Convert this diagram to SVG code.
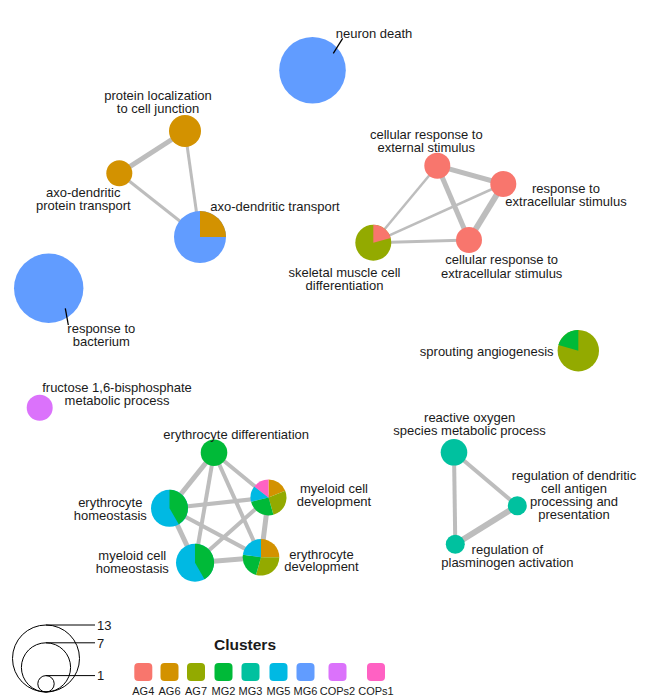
<svg xmlns="http://www.w3.org/2000/svg" width="651" height="696" viewBox="0 0 651 696">
<style>
text{font-family:"Liberation Sans",Arial,sans-serif;font-size:13px;fill:#1a1a1a;text-anchor:middle}
.e{stroke:#bdbdbd;fill:none;stroke-linecap:butt}
.lg{fill:none;stroke:#000;stroke-width:1}
.ld{stroke:#000;stroke-width:1.3}
.cl{font-size:11px}
.ttl{font-size:15.5px;font-weight:bold}
.AG4{fill:#F8766D}.AG6{fill:#D39200}.AG7{fill:#93AA00}.MG2{fill:#00BA38}.MG3{fill:#00C19F}.MG5{fill:#00B9E3}.MG6{fill:#619CFF}.COPs2{fill:#DB72FB}.COPs1{fill:#FF61C3}
</style>
<rect width="651" height="696" fill="#fff"/>
<g id="edges">
<line class="e" x1="185" y1="131" x2="119.3" y2="173.3" stroke-width="5"/>
<line class="e" x1="119.3" y1="173.3" x2="200" y2="237" stroke-width="3"/>
<line class="e" x1="185" y1="131" x2="200" y2="237" stroke-width="3"/>
<line class="e" x1="437.3" y1="165.7" x2="503.3" y2="184" stroke-width="5"/>
<line class="e" x1="437.3" y1="165.7" x2="469" y2="240" stroke-width="5"/>
<line class="e" x1="503.3" y1="184" x2="469" y2="240" stroke-width="6"/>
<line class="e" x1="373.3" y1="242.7" x2="437.3" y2="165.7" stroke-width="2.5"/>
<line class="e" x1="373.3" y1="242.7" x2="503.3" y2="184" stroke-width="2.5"/>
<line class="e" x1="373.3" y1="242.7" x2="469" y2="240" stroke-width="3"/>
<line class="e" x1="214" y1="452.7" x2="169.5" y2="508.3" stroke-width="5"/>
<line class="e" x1="214" y1="452.7" x2="195" y2="562.7" stroke-width="4"/>
<line class="e" x1="214" y1="452.7" x2="268.5" y2="497.5" stroke-width="4"/>
<line class="e" x1="214" y1="452.7" x2="261" y2="557.3" stroke-width="4"/>
<line class="e" x1="169.5" y1="508.3" x2="268.5" y2="497.5" stroke-width="4"/>
<line class="e" x1="169.5" y1="508.3" x2="195" y2="562.7" stroke-width="5"/>
<line class="e" x1="169.5" y1="508.3" x2="261" y2="557.3" stroke-width="4"/>
<line class="e" x1="195" y1="562.7" x2="268.5" y2="497.5" stroke-width="4"/>
<line class="e" x1="195" y1="562.7" x2="261" y2="557.3" stroke-width="5"/>
<line class="e" x1="268.5" y1="497.5" x2="261" y2="557.3" stroke-width="5"/>
<line class="e" x1="454" y1="452.3" x2="517.3" y2="505.7" stroke-width="4"/>
<line class="e" x1="454" y1="452.3" x2="455.3" y2="544.3" stroke-width="4"/>
<line class="e" x1="517.3" y1="505.7" x2="455.3" y2="544.3" stroke-width="6"/>
</g>
<g id="neuron-death">
<circle class="MG6" cx="312.5" cy="70.3" r="33.3"/>
<line class="ld" x1="333.3" y1="53.3" x2="342.7" y2="38.3"/>
<text x="374" y="38.3">neuron death</text>
</g>
<g id="protein-localization">
<circle class="AG6" cx="185" cy="131" r="16"/>
<text x="158" y="99.5">protein localization</text>
<text x="158" y="112.5">to cell junction</text>
</g>
<g id="axo-dendritic-protein-transport">
<circle class="AG6" cx="119.3" cy="173.3" r="13"/>
<text x="83.3" y="196.5">axo-dendritic</text>
<text x="83.3" y="209.5">protein transport</text>
</g>
<g id="axo-dendritic-transport">
<circle class="MG6" cx="200" cy="237" r="26"/>
<path class="AG6" d="M200,237 L200,211 A26,26 0 0 1 226,237 Z"/>
<text x="275" y="210.5">axo-dendritic transport</text>
</g>
<g id="cellular-response-external">
<circle class="AG4" cx="437.3" cy="165.7" r="13"/>
<text x="426.3" y="138.7">cellular response to</text>
<text x="426.3" y="152">external stimulus</text>
</g>
<g id="response-extracellular">
<circle class="AG4" cx="503.3" cy="184" r="13"/>
<text x="566" y="192.7">response to</text>
<text x="566" y="206">extracellular stimulus</text>
</g>
<g id="cellular-response-extracellular">
<circle class="AG4" cx="469" cy="240" r="13"/>
<text x="501.7" y="264.3">cellular response to</text>
<text x="501.7" y="277.7">extracellular stimulus</text>
</g>
<g id="skeletal-muscle">
<circle class="AG7" cx="373.3" cy="242.7" r="18"/>
<path class="AG4" d="M373.3,242.7 L373.3,224.7 A18,18 0 0 1 390.7,238 Z"/>
<text x="344.5" y="277.3">skeletal muscle cell</text>
<text x="344.5" y="290">differentiation</text>
</g>
<g id="response-to-bacterium">
<circle class="MG6" cx="48.7" cy="288.3" r="34.7"/>
<line class="ld" x1="65.3" y1="308.3" x2="68.3" y2="325"/>
<text x="101.3" y="333.3">response to</text>
<text x="101.3" y="346">bacterium</text>
</g>
<g id="fructose">
<circle class="COPs2" cx="39.7" cy="407.8" r="13"/>
<text x="117" y="391.5">fructose 1,6-bisphosphate</text>
<text x="117" y="405">metabolic process</text>
</g>
<g id="sprouting-angiogenesis">
<circle class="AG7" cx="578.3" cy="350.7" r="20.7"/>
<path class="MG2" d="M578.3,350.7 L558.4,345 A20.7,20.7 0 0 1 578.3,330 Z"/>
<text x="486.7" y="356">sprouting angiogenesis</text>
</g>
<g id="erythrocyte-differentiation">
<circle class="MG2" cx="214" cy="452.7" r="13.3"/>
<text x="236.2" y="439.3">erythrocyte differentiation</text>
</g>
<g id="erythrocyte-homeostasis">
<circle class="MG5" cx="169.5" cy="508.3" r="18.5"/>
<path class="MG2" d="M169.5,508.3 L169.5,489.8 A18.5,18.5 0 0 1 178.75,524.3 Z"/>
<text x="110.3" y="507.3">erythrocyte</text>
<text x="110.3" y="520.3">homeostasis</text>
</g>
<g id="myeloid-cell-homeostasis">
<circle class="MG5" cx="195" cy="562.7" r="19"/>
<path class="MG2" d="M195,562.7 L195,543.7 A19,19 0 0 1 204.5,579.2 Z"/>
<text x="132.3" y="560">myeloid cell</text>
<text x="132.3" y="573">homeostasis</text>
</g>
<g id="myeloid-cell-development">
<path class="AG6" d="M268.5,497.5 L268.5,479.5 A18,18 0 0 1 285.19,490.76 Z"/>
<path class="AG7" d="M268.5,497.5 L285.19,490.76 A18,18 0 0 1 273.46,514.8 Z"/>
<path class="MG2" d="M268.5,497.5 L273.46,514.8 A18,18 0 0 1 251.03,501.85 Z"/>
<path class="MG5" d="M268.5,497.5 L251.03,501.85 A18,18 0 0 1 254.32,486.42 Z"/>
<path class="COPs1" d="M268.5,497.5 L254.32,486.42 A18,18 0 0 1 268.5,479.5 Z"/>
<text x="334" y="493.3">myeloid cell</text>
<text x="334" y="506">development</text>
</g>
<g id="erythrocyte-development">
<path class="AG6" d="M261,557.3 L261,539 A18.3,18.3 0 0 1 279.3,557.3 Z"/>
<path class="AG7" d="M261,557.3 L279.3,557.3 A18.3,18.3 0 0 1 255.96,574.89 Z"/>
<path class="MG2" d="M261,557.3 L255.96,574.89 A18.3,18.3 0 0 1 242.88,554.75 Z"/>
<path class="MG5" d="M261,557.3 L242.88,554.75 A18.3,18.3 0 0 1 261,539 Z"/>
<text x="321.5" y="559.3">erythrocyte</text>
<text x="321.5" y="571.3">development</text>
</g>
<g id="reactive-oxygen">
<circle class="MG3" cx="454" cy="452.3" r="13.3"/>
<text x="469.6" y="421.7">reactive oxygen</text>
<text x="469.6" y="435">species metabolic process</text>
</g>
<g id="regulation-dendritic">
<circle class="MG3" cx="517.3" cy="505.7" r="9.5"/>
<text x="574" y="480">regulation of dendritic</text>
<text x="574" y="493.3">cell antigen</text>
<text x="574" y="505.5">processing and</text>
<text x="574" y="518.5">presentation</text>
</g>
<g id="regulation-plasminogen">
<circle class="MG3" cx="455.3" cy="544.3" r="9.5"/>
<text x="507.4" y="553.5">regulation of</text>
<text x="507.4" y="566.7">plasminogen activation</text>
</g>
<g id="size-legend">
<circle class="lg" cx="46" cy="658.5" r="33.5"/>
<circle class="lg" cx="46" cy="667.4" r="24.6"/>
<circle class="lg" cx="46" cy="683.8" r="8.2"/>
<line class="lg" x1="46" y1="625" x2="95" y2="625"/>
<line class="lg" x1="46" y1="642.8" x2="95" y2="642.8"/>
<line class="lg" x1="46" y1="675.6" x2="95" y2="675.6"/>
<text x="97" y="630" style="text-anchor:start">13</text>
<text x="97" y="647.5" style="text-anchor:start">7</text>
<text x="97" y="680.3" style="text-anchor:start">1</text>
</g>
<g id="cluster-legend">
<text class="ttl" x="245" y="650">Clusters</text>
<rect class="AG4" x="134.3" y="663" width="18" height="18" rx="4"/>
<rect class="AG6" x="160.5" y="663" width="18" height="18" rx="4"/>
<rect class="AG7" x="187" y="663" width="18" height="18" rx="4"/>
<rect class="MG2" x="214.5" y="663" width="18" height="18" rx="4"/>
<rect class="MG3" x="241.5" y="663" width="18" height="18" rx="4"/>
<rect class="MG5" x="269.5" y="663" width="18" height="18" rx="4"/>
<rect class="MG6" x="296.5" y="663" width="18" height="18" rx="4"/>
<rect class="COPs2" x="328.5" y="663" width="18" height="18" rx="4"/>
<rect class="COPs1" x="367" y="663" width="18" height="18" rx="4"/>
<text class="cl" x="143.3" y="694.5">AG4</text>
<text class="cl" x="169.5" y="694.5">AG6</text>
<text class="cl" x="196" y="694.5">AG7</text>
<text class="cl" x="223.5" y="694.5">MG2</text>
<text class="cl" x="250.5" y="694.5">MG3</text>
<text class="cl" x="278.5" y="694.5">MG5</text>
<text class="cl" x="305.5" y="694.5">MG6</text>
<text class="cl" x="337.5" y="694.5">COPs2</text>
<text class="cl" x="376" y="694.5">COPs1</text>
</g>
</svg>
